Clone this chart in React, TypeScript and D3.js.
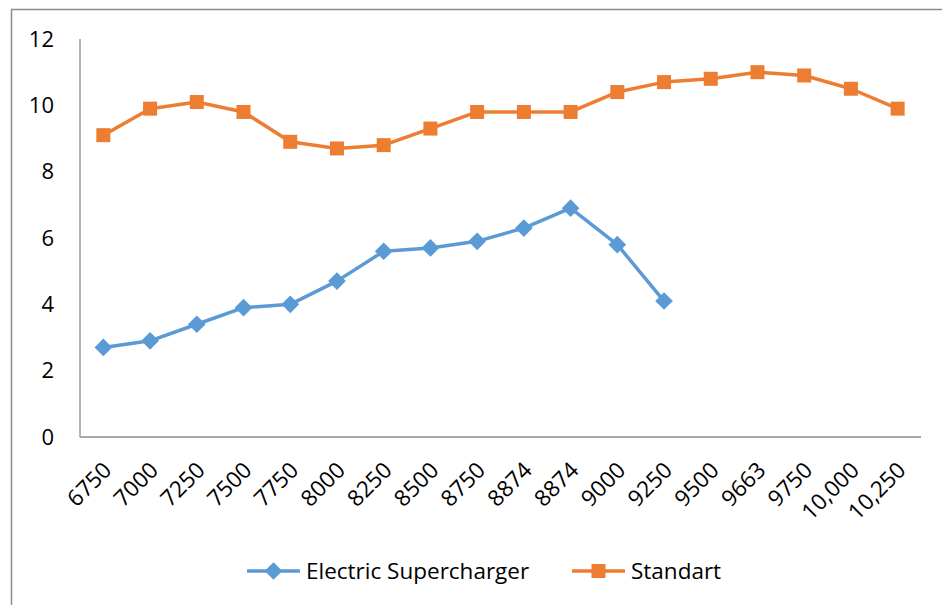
import React, { useEffect, useRef } from "react";
import * as d3 from "d3";

const categories = ["6750", "7000", "7250", "7500", "7750", "8000", "8250", "8500", "8750", "8874", "8874", "9000", "9250", "9500", "9663", "9750", "10,000", "10,250"];
const electricValues = [2.7, 2.9, 3.4, 3.9, 4.0, 4.7, 5.6, 5.7, 5.9, 6.3, 6.9, 5.8, 4.1];
const standartValues = [9.1, 9.9, 10.1, 9.8, 8.9, 8.7, 8.8, 9.3, 9.8, 9.8, 9.8, 10.4, 10.7, 10.8, 11.0, 10.9, 10.5, 9.9];
const yTicks = [0, 2, 4, 6, 8, 10, 12];

const BLUE = "#5B9BD5";
const ORANGE = "#ED7D31";
const FONT = "'Open Sans', sans-serif";

function App() {
    const ref = useRef<SVGSVGElement>(null);

    useEffect(() => {
        const svg = d3.select(ref.current);
        svg.selectAll("*").remove();

        const width = 942;
        const height = 605;
        const margin = { top: 39, right: 21, bottom: 168, left: 80 };

        // outer chart border (runs off the right and bottom of the picture)
        svg.append("rect")
            .attr("x", 11.5).attr("y", 9.5)
            .attr("width", 1000).attr("height", 1000)
            .attr("fill", "white").attr("stroke", "#8c8c8c").attr("stroke-width", 1.5);

        const x = d3.scaleBand<number>()
            .domain(d3.range(categories.length))
            .range([margin.left, width - margin.right]);
        const y = d3.scaleLinear().domain([0, 12]).range([height - margin.bottom, margin.top]);
        const cx = (i: number) => (x(i) as number) + x.bandwidth() / 2;

        const g = svg.append("g");

        // axes
        g.append("line")
            .attr("x1", margin.left).attr("x2", margin.left)
            .attr("y1", y(12)).attr("y2", y(0))
            .attr("stroke", "#8c8c8c").attr("stroke-width", 1.3);
        g.append("line")
            .attr("x1", margin.left).attr("x2", width - margin.right)
            .attr("y1", y(0)).attr("y2", y(0))
            .attr("stroke", "#8c8c8c").attr("stroke-width", 1.3);

        g.selectAll(".ytick")
            .data(yTicks)
            .enter().append("text")
            .attr("x", 54)
            .attr("y", d => y(d))
            .attr("dy", "0.35em")
            .attr("text-anchor", "end")
            .style("font-family", FONT)
            .style("font-size", "22px")
            .text(d => d);

        g.selectAll(".xtick")
            .data(categories)
            .enter().append("text")
            .attr("transform", (d, i) => `translate(${cx(i) + 4},${y(0) + 29}) rotate(-45)`)
            .attr("text-anchor", "end")
            .attr("dy", "0.35em")
            .style("font-family", FONT)
            .style("font-size", "22.5px")
            .text(d => d);

        const line = d3.line<number>()
            .x((d, i) => cx(i))
            .y(d => y(d));

        // Standart series
        g.append("path")
            .datum(standartValues)
            .attr("d", line)
            .attr("fill", "none")
            .attr("stroke", ORANGE)
            .attr("stroke-width", 3.5)
            .attr("stroke-linejoin", "round");
        g.selectAll(".sq")
            .data(standartValues)
            .enter().append("rect")
            .attr("x", (d, i) => cx(i) - 7)
            .attr("y", d => y(d) - 7)
            .attr("width", 14).attr("height", 14)
            .attr("fill", ORANGE);

        // Electric Supercharger series
        g.append("path")
            .datum(electricValues)
            .attr("d", line)
            .attr("fill", "none")
            .attr("stroke", BLUE)
            .attr("stroke-width", 3.5)
            .attr("stroke-linejoin", "round");
        const diamond = d3.symbol().type(d3.symbolDiamond2).size(200);
        g.selectAll(".dm")
            .data(electricValues)
            .enter().append("path")
            .attr("d", diamond)
            .attr("transform", (d, i) => `translate(${cx(i)},${y(d)})`)
            .attr("fill", BLUE);

        // legend
        const legend = svg.append("g").attr("transform", "translate(0,571)");
        const items = [
            { label: "Electric Supercharger", color: BLUE, x: 247, shape: "diamond" },
            { label: "Standart", color: ORANGE, x: 572, shape: "square" },
        ];
        items.forEach(it => {
            legend.append("line")
                .attr("x1", it.x).attr("x2", it.x + 53)
                .attr("y1", 0).attr("y2", 0)
                .attr("stroke", it.color).attr("stroke-width", 3.5);
            if (it.shape === "diamond") {
                legend.append("path")
                    .attr("d", diamond)
                    .attr("transform", `translate(${it.x + 26.5},0)`)
                    .attr("fill", it.color);
            } else {
                legend.append("rect")
                    .attr("x", it.x + 26.5 - 7).attr("y", -7)
                    .attr("width", 14).attr("height", 14)
                    .attr("fill", it.color);
            }
            legend.append("text")
                .attr("x", it.x + 59)
                .attr("y", 0)
                .attr("dy", "0.35em")
                .style("font-family", FONT)
                .style("font-size", "22.5px")
                .text(it.label);
        });
    }, []);

    return (
        <svg ref={ref} width={942} height={605} style={{ position: "absolute", left: 0, top: 0 }}></svg>
    );
}

export default App;
